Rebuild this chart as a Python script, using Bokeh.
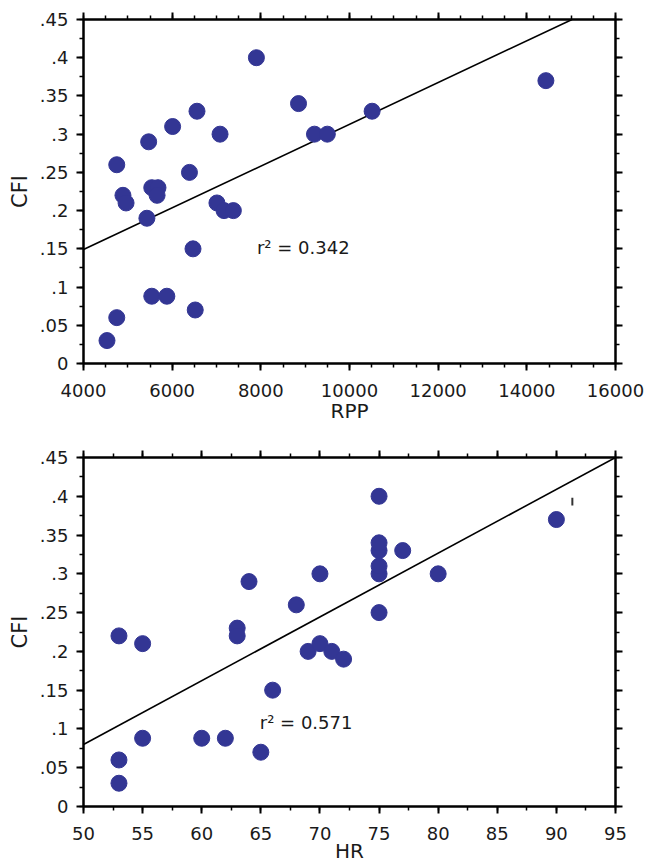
from bokeh.plotting import figure
from bokeh.layouts import column
from bokeh.models import (Range1d, LinearAxis, SingleIntervalTicker, CustomJSTickFormatter, Label)
from bokeh.embed import file_html
from bokeh.resources import INLINE

# ---- data ----
rpp = [4530, 4750, 4750, 4890, 4960, 5430, 5470, 5540, 5680, 5660, 5540, 5880, 6010, 6390,
       6470, 6520, 6560, 7080, 7010, 7170, 7380, 7900, 8850, 9210, 9500, 10510, 14430]
cfi_rpp = [0.03, 0.06, 0.26, 0.22, 0.21, 0.19, 0.29, 0.23, 0.23, 0.22, 0.088, 0.088, 0.31, 0.25,
           0.15, 0.07, 0.33, 0.30, 0.21, 0.20, 0.20, 0.40, 0.34, 0.30, 0.30, 0.33, 0.37]
fit_rpp_x = [4000, 15020]
fit_rpp_y = [0.149, 0.45]
r2_rpp = "r² =  0.342"
r2_rpp_pos = (7912, 0.152)

hr = [53, 55, 55, 53, 53, 60, 62, 65, 66, 63, 63, 64, 68, 70, 69, 70, 71, 72, 75, 75, 75, 75,
      75, 75, 77, 80, 90]
cfi_hr = [0.22, 0.21, 0.088, 0.06, 0.03, 0.088, 0.088, 0.07, 0.15, 0.23, 0.22, 0.29, 0.26, 0.30,
          0.20, 0.21, 0.20, 0.19, 0.25, 0.30, 0.31, 0.33, 0.34, 0.40, 0.33, 0.30, 0.37]
fit_hr_x = [50, 95]
fit_hr_y = [0.08, 0.45]
r2_hr = "r² =  0.571"
r2_hr_pos = (64.91, 0.1085)
stray_mark = ([91.35], [0.388], [0.398])

y_ticks = [0, 0.05, 0.1, 0.15, 0.2, 0.25, 0.3, 0.35, 0.4, 0.45]
y_tick_labels = ["0", ".05", ".1", ".15", ".2", ".25", ".3", ".35", ".4", ".45"]
rpp_ticks = [4000, 6000, 8000, 10000, 12000, 14000, 16000]
rpp_tick_labels = ["4000", "6000", "8000", "10000", "12000", "14000", "16000"]
hr_ticks = [50, 55, 60, 65, 70, 75, 80, 85, 90, 95]
hr_tick_labels = ["50", "55", "60", "65", "70", "75", "80", "85", "90", "95"]

DOT = "#333694"
FONT = "DejaVu Sans"
TXT = "#1a1a1a"

LOOKUP = ("for (let i = 0; i < vals.length; i++) {"
          " if (Math.abs(tick - vals[i]) < 1e-6) return labs[i]; } return '';")


def fmt(vals, labs):
    return CustomJSTickFormatter(args=dict(vals=vals, labs=labs), code=LOOKUP)


def style(ax, show_labels=True, standoff=8):
    ax.axis_line_width = 2
    ax.axis_line_color = "black"
    ax.major_tick_line_width = 2
    ax.major_tick_line_color = "black"
    ax.minor_tick_line_width = 1.5
    ax.minor_tick_line_color = "black"
    ax.major_tick_out = 7
    ax.major_tick_in = 0
    ax.minor_tick_out = 4
    ax.minor_tick_in = 0
    if show_labels:
        ax.major_label_text_font = FONT
        ax.major_label_text_font_size = "18px"
        ax.major_label_text_color = TXT
        ax.major_label_standoff = standoff
    else:
        ax.major_label_text_font_size = "1px"
        ax.major_label_text_color = None
        ax.major_label_standoff = 0


def make_plot(xs, ys, x_range, x_interval, x_minor, x_vals, x_labs, fit_x, fit_y,
              r2_text, r2_pos, xlabel, xlabel_standoff, height, top_b, right_b, bottom_b):
    p = figure(width=646, height=height, x_range=Range1d(*x_range), y_range=Range1d(0, 0.45),
               output_backend="svg", toolbar_location=None,
               min_border_left=83, min_border_right=right_b, min_border_top=top_b,
               min_border_bottom=bottom_b)
    p.xgrid.visible = False
    p.ygrid.visible = False
    p.outline_line_color = "black"
    p.outline_line_width = 2
    p.background_fill_color = "white"
    p.border_fill_color = "white"

    p.xaxis.ticker = SingleIntervalTicker(interval=x_interval, num_minor_ticks=x_minor)
    p.xaxis.formatter = fmt(x_vals, x_labs)
    p.yaxis.ticker = SingleIntervalTicker(interval=0.05, num_minor_ticks=2)
    p.yaxis.formatter = fmt(y_ticks, y_tick_labels)
    for ax in p.xaxis:
        style(ax, True, 13)
        ax.axis_label = xlabel
        ax.axis_label_text_font = FONT
        ax.axis_label_text_font_size = "20px"
        ax.axis_label_text_font_style = "normal"
        ax.axis_label_text_color = TXT
        ax.axis_label_standoff = xlabel_standoff
    for ax in p.yaxis:
        style(ax, True, 8)
        ax.axis_label = "CFI"
        ax.axis_label_text_font = FONT
        ax.axis_label_text_font_size = "21px"
        ax.axis_label_text_font_style = "normal"
        ax.axis_label_text_color = TXT
        ax.axis_label_standoff = 5

    top = LinearAxis(ticker=SingleIntervalTicker(interval=x_interval, num_minor_ticks=x_minor))
    style(top, False)
    p.add_layout(top, "above")
    right = LinearAxis(ticker=SingleIntervalTicker(interval=0.05, num_minor_ticks=2))
    style(right, False)
    p.add_layout(right, "right")

    p.line(fit_x, fit_y, line_color="black", line_width=1.6)
    p.scatter(xs, ys, size=16, fill_color=DOT, line_color=DOT, marker="circle")

    p.add_layout(Label(x=r2_pos[0], y=r2_pos[1], text=r2_text, text_font=FONT,
                       text_font_size="18px", text_color=TXT, text_align="left",
                       text_baseline="alphabetic"))
    return p


p1 = make_plot(rpp, cfi_rpp, (4000, 16000), 2000, 4, rpp_ticks, rpp_tick_labels,
               fit_rpp_x, fit_rpp_y, r2_rpp, r2_rpp_pos, "RPP", -1, 446, 19, 31, 83)
p2 = make_plot(hr, cfi_hr, (50, 95), 5, 2, hr_ticks, hr_tick_labels,
               fit_hr_x, fit_hr_y, r2_hr, r2_hr_pos, "HR", -4, 421, 11, 29, 61)
p2.segment(x0=stray_mark[0], y0=stray_mark[1], x1=stray_mark[0], y1=stray_mark[2],
           line_color="#333333", line_width=2)

layout = column(p1, p2)
open("out.html", "w").write(file_html(layout, INLINE))
